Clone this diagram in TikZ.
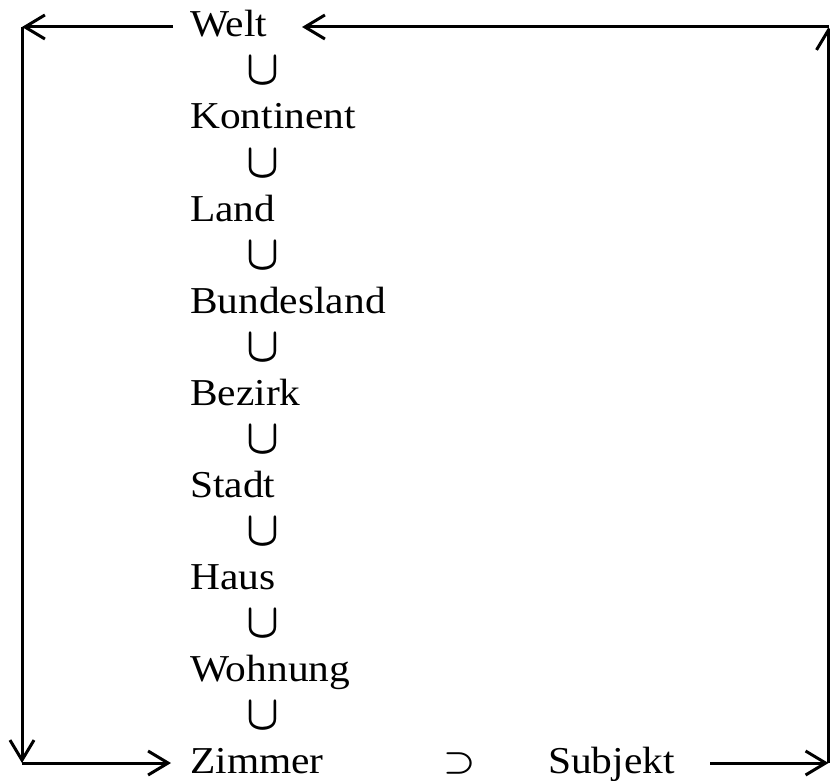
\documentclass[tikz,border=0pt]{standalone}
\usepackage{fontspec}
\setmainfont[FakeStretch=1.09]{Liberation Serif}
\usetikzlibrary{arrows.meta}
\tikzset{
  word/.style={anchor=base west, inner sep=0pt, font=\fontsize{38}{40}\selectfont},
  subs/.style={anchor=base, inner sep=0pt, font=\fontsize{10}{12}\selectfont\boldmath},
  conn/.style={line width=3pt, -{Straight Barb[length=20pt,width=24pt,line width=3pt]}}
}
\begin{document}
\begin{tikzpicture}[x=1pt,y=-1pt]
\useasboundingbox (0,0) rectangle (830,781);
% words
\node[word] (welt) at (190,37) {Welt};
\node[word] (kont) at (190,129) {Kontinent};
\node[word] (land) at (190,221) {Land};
\node[word] (bund) at (190,313) {Bundesland};
\node[word] (bez) at (190,405) {Bezirk};
\node[word] (stadt) at (190,497) {Stadt};
\node[word] (haus) at (190,589) {Haus};
\node[word] (wohn) at (190,681) {Wohnung};
\node[word] (zim) at (190,773) {Zimmer};
\node[word] (subj) at (548,773) {Subjekt};
% subset symbols
\foreach \k in {0,...,7}{
  \node[subs] (u\k) at (263,{85+92*\k}) {\scalebox{4.3}[4.9]{$\cup$}};
}
\node[subs, anchor=center] (sup) at (460,763) {\scalebox{3.6}[3.2]{$\supset$}};
% corners
\coordinate (tl) at (22,27);
\coordinate (bl) at (22,763);
\coordinate (tr) at (828.5,27);
\coordinate (br) at (828.5,763);
\coordinate (weltL) at (173,27);
\coordinate (weltR) at (302,27);
\coordinate (zimL) at (171,763);
\coordinate (subjR) at (710,763);
% connectors
\draw[conn] (weltL) -- (tl);
\draw[conn] (tl) -- (bl);
\draw[conn] (bl) -- (zimL);
\draw[conn] (subjR) -- (br);
\draw[conn] (br) -- (tr);
\draw[conn] (tr) -- (weltR);
\end{tikzpicture}
\end{document}
